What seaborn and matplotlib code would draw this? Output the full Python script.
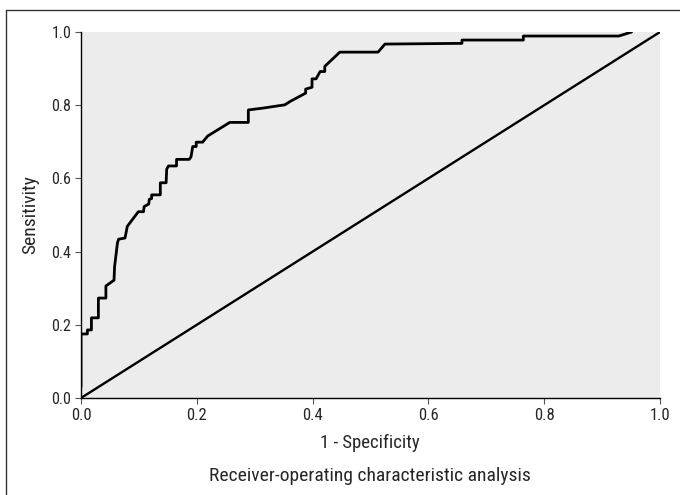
import matplotlib
matplotlib.use("Agg")
import matplotlib.pyplot as plt
from matplotlib.lines import Line2D
from matplotlib import font_manager
import seaborn as sns
import pandas as pd

# ROC curve points (1 - specificity, sensitivity)
fpr = [0.0, 0.0, 0.011, 0.011, 0.018, 0.018, 0.030, 0.030, 0.043, 0.043,
       0.057, 0.058, 0.063, 0.065, 0.076, 0.080, 0.099, 0.108, 0.109, 0.117,
       0.118, 0.122, 0.122, 0.137, 0.137, 0.147, 0.148, 0.151, 0.165, 0.165,
       0.187, 0.190, 0.193, 0.199, 0.199, 0.210, 0.219, 0.257, 0.289, 0.289,
       0.314, 0.352, 0.361, 0.388, 0.388, 0.399, 0.399, 0.406, 0.413, 0.421,
       0.421, 0.447, 0.513, 0.525, 0.658, 0.658, 0.764, 0.764, 0.929, 0.951]
tpr = [0.030, 0.175, 0.175, 0.186, 0.186, 0.219, 0.219, 0.273, 0.273, 0.306,
       0.322, 0.359, 0.424, 0.434, 0.437, 0.469, 0.509, 0.509, 0.523, 0.530,
       0.543, 0.545, 0.555, 0.555, 0.588, 0.588, 0.625, 0.634, 0.634, 0.652,
       0.652, 0.659, 0.687, 0.687, 0.699, 0.699, 0.716, 0.753, 0.753, 0.787,
       0.792, 0.801, 0.810, 0.833, 0.844, 0.849, 0.872, 0.872, 0.892, 0.892,
       0.906, 0.945, 0.945, 0.967, 0.969, 0.978, 0.978, 0.989, 0.989, 1.000]

# Reference (chance) line
ref_x = [0.0, 1.0]
ref_y = [0.0, 1.0]

x_ticks = [0.0, 0.2, 0.4, 0.6, 0.8, 1.0]
y_ticks = [0.0, 0.2, 0.4, 0.6, 0.8, 1.0]
x_label = "1 - Specificity"
y_label = "Sensitivity"
caption = "Receiver-operating characteristic analysis"

sns.set_style("ticks", {"axes.facecolor": "#ececec"})
names = {f.name for f in font_manager.fontManager.ttflist}
prefs = ["Roboto Condensed", "Archivo Narrow", "PT Sans Narrow", "Fira Sans Condensed",
         "IBM Plex Sans Condensed", "Barlow Semi Condensed", "Asap Condensed",
         "Liberation Sans Narrow", "Liberation Sans", "DejaVu Sans"]
fam = [n for n in prefs if n in names][:1] + ["DejaVu Sans"]
plt.rcParams["font.family"] = fam

fig = plt.figure(figsize=(6.8, 4.95), dpi=100)
ax = fig.add_axes([81/680, 1 - 398/495, 579/680, 366/495])

roc = pd.DataFrame({"fpr": fpr, "tpr": tpr})
ref = pd.DataFrame({"x": ref_x, "y": ref_y})
sns.lineplot(data=roc, x="fpr", y="tpr", sort=False, estimator=None,
             color="black", linewidth=2.0, ax=ax)
sns.lineplot(data=ref, x="x", y="y", sort=False, estimator=None,
             color="black", linewidth=1.7, ax=ax)

ax.set_xlim(0, 1)
ax.set_ylim(0, 1)
ax.set_xticks(x_ticks)
ax.set_yticks(y_ticks)
ax.set_xticklabels([f"{t:.1f}" for t in x_ticks], fontsize=12)
ax.set_yticklabels([f"{t:.1f}" for t in y_ticks], fontsize=11.5)
ax.tick_params(direction="out", length=4, width=0.8, color="#555555", pad=3)
for s in ["top", "right"]:
    ax.spines[s].set_visible(False)
for s in ["left", "bottom"]:
    ax.spines[s].set_color("black")
    ax.spines[s].set_linewidth(1.0)

ax.set_xlabel("")
ax.set_ylabel(y_label, fontsize=14, labelpad=9)
fig.text(370/680, 1 - 443/495, x_label, ha="center", va="center", fontsize=13.5)
fig.text(370/680, 1 - 476/495, caption, ha="center", va="center", fontsize=14)

# figure frame (left and top edges visible)
fig.add_artist(Line2D([6/680, 6/680], [0, 1 - 10/495], transform=fig.transFigure,
                      color="#333333", linewidth=1.0))
fig.add_artist(Line2D([6/680, 1], [1 - 10/495, 1 - 10/495], transform=fig.transFigure,
                      color="#333333", linewidth=1.0))

fig.savefig("out.png", dpi=100)
